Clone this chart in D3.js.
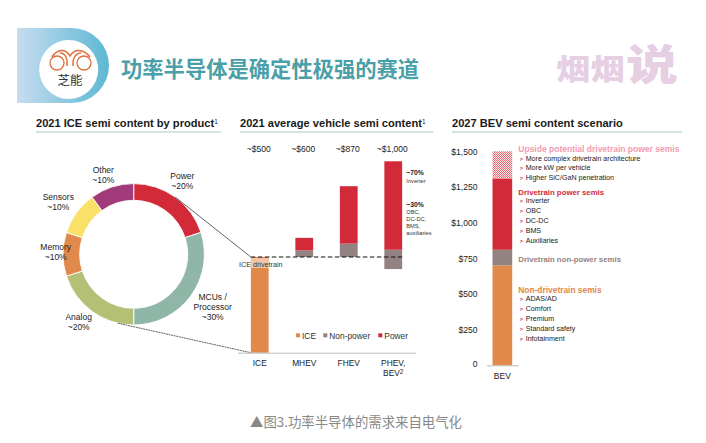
<!DOCTYPE html>
<html>
<head>
<meta charset="utf-8">
<script src="https://cdn.jsdelivr.net/npm/d3@7"></script>
<style>
  html, body { margin: 0; padding: 0; background: #fff; }
  svg { display: block; }
  text { font-family: "Liberation Sans", Arial, sans-serif; fill: #222; }
  .cjk { font-family: "Noto Sans CJK SC", sans-serif; }
</style>
</head>
<body>
<svg id="chart" width="706" height="443"></svg>
<script>
// donut
const products = ['Power', 'MCUs / Processor', 'Analog', 'Memory', 'Sensors', 'Other'];
const productShares = [20, 30, 20, 10, 10, 10];
const productColors = ['#d32a3a', '#90b6a8', '#b3c076', '#e0894b', '#fbe067', '#a13a7a'];
const productLabels = [['Power', '~20%'], ['MCUs /', 'Processor', '~30%'], ['Analog', '~20%'], ['Memory', '~10%'], ['Sensors', '~10%'], ['Other', '~10%']];

// waterfall, values in $ per vehicle
const vehicles = ['ICE', 'MHEV', 'FHEV', 'PHEV, BEV'];
const vehicleTotals = ['~$500', '~$600', '~$870', '~$1,000'];
const iceValues = [500, 0, 0, 0];
const nonPowerBase = [0, 500, 500, 437];
const nonPowerTop = [0, 535, 570, 538];
const powerTop = [0, 600, 870, 1000];
const iceDrivetrain = 500;

// BEV scenario
const bevLevels = [0, 700, 810, 1310, 1500];
const bevColors = ['#e0894b', '#928382', '#d32a3a', 'url(#hatch)'];
const bevTicks = [0, 250, 500, 750, 1000, 1250, 1500];
const upsideItems = ['More complex drivetrain architecture', 'More kW per vehicle', 'Higher SiC/GaN penetration'];
const powerItems = ['Inverter', 'OBC', 'DC-DC', 'BMS', 'Auxiliaries'];
const otherItems = ['ADAS/AD', 'Comfort', 'Premium', 'Standard safety', 'Infotainment'];

const svg = d3.select('#chart');
const defs = svg.append('defs');

const grad = defs.append('linearGradient').attr('id', 'logoGrad');
grad.append('stop').attr('offset', '0%').attr('stop-color', '#c6dcf0');
grad.append('stop').attr('offset', '100%').attr('stop-color', '#5cb8d2');

const hatch = defs.append('pattern').attr('id', 'hatch')
  .attr('width', 2).attr('height', 2).attr('patternUnits', 'userSpaceOnUse');
hatch.append('rect').attr('width', 2).attr('height', 2).attr('fill', '#fbe6e8');
hatch.append('rect').attr('width', 1).attr('height', 1).attr('fill', '#e56b78');
hatch.append('rect').attr('x', 1).attr('y', 1).attr('width', 1).attr('height', 1).attr('fill', '#e56b78');

// little helper, most of this picture is loose text
function label(g, x, y, str, opts = {}) {
  return g.append('text')
    .attr('x', x).attr('y', y)
    .attr('dominant-baseline', 'central')
    .attr('text-anchor', opts.anchor || 'start')
    .attr('font-size', opts.size || 8)
    .attr('font-weight', opts.weight || 'normal')
    .style('fill', opts.color || '#222')
    .text(str);
}

// header
const logo = svg.append('g');
logo.append('path')
  .attr('d', 'M17,28 H71.5 A37.5,37.5 0 0 1 71.5,103 H17 Z')
  .attr('fill', 'url(#logoGrad)');
logo.append('circle').attr('cx', 68.7).attr('cy', 69.5).attr('r', 29.5).attr('fill', '#fff');
logo.append('path')
  .attr('d', 'M52,57 C58,48 66,49 70,56 C74,49 83,48 90,57 M60,53 C66,53 68,60 67,66 M81,53 C75,53 72,60 73,66')
  .attr('fill', 'none').attr('stroke', '#e0703a').attr('stroke-width', 1.5);
logo.append('circle').attr('cx', 57).attr('cy', 63).attr('r', 7).attr('fill', 'none').attr('stroke', '#e0703a').attr('stroke-width', 1.3);
logo.append('circle').attr('cx', 84).attr('cy', 63).attr('r', 7).attr('fill', 'none').attr('stroke', '#e0703a').attr('stroke-width', 1.3);
label(logo, 70, 79, '芝能', { anchor: 'middle', size: 12.5, color: '#333' }).attr('class', 'cjk');

label(svg, 121, 67, '功率半导体是确定性极强的赛道', { size: 21.3, weight: 700, color: '#4a9fa8' }).attr('class', 'cjk');
label(svg, 556, 67, '烟烟', { size: 29, weight: 900, color: '#e6cfe2' }).attr('class', 'cjk')
  .attr('textLength', 69).attr('lengthAdjust', 'spacingAndGlyphs');
label(svg, 626, 61, '说', { size: 42, weight: 900, color: '#e6cfe2' }).attr('class', 'cjk')
  .attr('textLength', 52).attr('lengthAdjust', 'spacingAndGlyphs');

// section titles
const titles = [
  { text: '2021 ICE semi content by product', x0: 36, x1: 221, sup: true },
  { text: '2021 average vehicle semi content', x0: 240, x1: 433.5, sup: true },
  { text: '2027 BEV semi content scenario', x0: 452, x1: 682, sup: false }
];
titles.forEach(t => {
  const el = svg.append('text').attr('x', t.x0).attr('y', 127)
    .attr('font-size', 11.1).attr('font-weight', 'bold').style('fill', '#1a1a1a').text(t.text);
  if (t.sup) el.append('tspan').attr('dy', -3.5).attr('font-size', 6.5).attr('font-weight', 'normal').text('1');
  svg.append('line').attr('x1', t.x0).attr('x2', t.x1).attr('y1', 132).attr('y2', 132)
    .attr('stroke', '#c6dad4').attr('stroke-width', 1.6);
});

// donut
const donutX = 133.7, donutY = 254.3, outerR = 70.7, innerR = 54;
const pie = d3.pie().sort(null).value(d => d);
const arc = d3.arc().innerRadius(innerR).outerRadius(outerR);
const donut = svg.append('g').attr('transform', `translate(${donutX},${donutY})`);
donut.selectAll('path')
  .data(pie(productShares))
  .join('path')
  .attr('d', arc)
  .attr('fill', (d, i) => productColors[i])
  .attr('stroke', '#fff')
  .attr('stroke-width', 0.9);

const donutLabelAt = [[182.3, 176], [212.7, 297.3], [78.7, 317.3], [55.7, 247.3], [58.3, 197.3], [103.3, 169.7]];
productLabels.forEach((lines, i) => {
  lines.forEach((s, j) => {
    label(svg, donutLabelAt[i][0], donutLabelAt[i][1] + j * 10, s, { anchor: 'middle', size: 8.5 });
  });
});

// waterfall
const xMid = d3.scaleBand().domain(vehicles).range([237.5, 415.5]).paddingInner(0.6).paddingOuter(0.3);
const yMid = d3.scaleLinear().domain([0, 1000]).range([352.7, 161.3]);
const mid = svg.append('g');

mid.selectAll('rect.ice').data(vehicles).join('rect').attr('class', 'ice')
  .attr('x', d => xMid(d)).attr('width', xMid.bandwidth())
  .attr('y', (d, i) => yMid(iceValues[i]))
  .attr('height', (d, i) => yMid(0) - yMid(iceValues[i]))
  .attr('fill', '#e0894b');
mid.selectAll('rect.nonpower').data(vehicles).join('rect').attr('class', 'nonpower')
  .attr('x', d => xMid(d)).attr('width', xMid.bandwidth())
  .attr('y', (d, i) => yMid(nonPowerTop[i]))
  .attr('height', (d, i) => Math.max(0, yMid(nonPowerBase[i]) - yMid(nonPowerTop[i])))
  .attr('fill', '#928382');
mid.selectAll('rect.power').data(vehicles).join('rect').attr('class', 'power')
  .attr('x', d => xMid(d)).attr('width', xMid.bandwidth())
  .attr('y', (d, i) => yMid(powerTop[i]))
  .attr('height', (d, i) => Math.max(0, yMid(nonPowerTop[i]) - yMid(powerTop[i])))
  .attr('fill', '#d32a3a');

// connectors from the power and analog slices to the ICE bar
const polar = (deg) => [donutX + outerR * Math.sin(deg * Math.PI / 180), donutY - outerR * Math.cos(deg * Math.PI / 180)];
const upper = polar(36), lower = polar(193);
mid.append('line').attr('x1', upper[0]).attr('y1', upper[1]).attr('x2', xMid('ICE')).attr('y2', yMid(iceDrivetrain))
  .attr('stroke', '#222').attr('stroke-width', 0.7);
mid.append('line').attr('x1', lower[0]).attr('y1', lower[1]).attr('x2', xMid('ICE')).attr('y2', yMid(0))
  .attr('stroke', '#222').attr('stroke-width', 0.7).attr('stroke-dasharray', '2,0.6');

const axisMid = d3.axisBottom(xMid).tickSize(0).tickFormat(() => '');
const midAxisG = mid.append('g').attr('transform', `translate(0,${yMid(0)})`).call(axisMid);
midAxisG.select('.domain').attr('stroke', '#bbb').attr('stroke-width', 1);

vehicles.forEach((v, i) => {
  const cx = xMid(v) + xMid.bandwidth() / 2;
  label(mid, cx - 1, 148.7, vehicleTotals[i], { anchor: 'middle', size: 8.5 });
  if (v.includes(',')) {
    label(mid, cx, 363, 'PHEV,', { anchor: 'middle', size: 8.4 });
    const t = label(mid, cx, 372.7, 'BEV', { anchor: 'middle', size: 8.4 });
    t.append('tspan').attr('dy', -2).attr('font-size', 6.5).text('2');
  } else {
    label(mid, cx, 363, v, { anchor: 'middle', size: 8.4 });
  }
});

// ICE drivetrain level
mid.append('rect').attr('x', xMid('ICE')).attr('width', xMid.bandwidth())
  .attr('y', yMid(iceDrivetrain) + 1).attr('height', 10).attr('fill', '#fff').attr('opacity', 0.5);
mid.append('line').attr('x1', xMid('ICE')).attr('x2', xMid(vehicles[3]) + xMid.bandwidth())
  .attr('y1', yMid(iceDrivetrain)).attr('y2', yMid(iceDrivetrain))
  .attr('stroke', '#111').attr('stroke-width', 1.1).attr('stroke-dasharray', '4.5,2.5');
label(mid, 239, 264, 'ICE drivetrain', { size: 7.2, color: '#333' });

// side notes
label(mid, 406.3, 172.7, '~70%', { size: 6.8, weight: 'bold' });
label(mid, 406.3, 180.7, 'Inverter', { size: 5.7, color: '#333' });
label(mid, 406.3, 204.3, '~30%', { size: 6.8, weight: 'bold' });
['OBC,', 'DC-DC,', 'BMS,', 'auxiliaries'].forEach((s, i) => {
  label(mid, 406.3, 212 + i * 6.95, s, { size: 5.7, color: '#333' });
});

// legend
const legendItems = [['ICE', '#e0894b', 296], ['Non-power', '#928382', 323.3], ['Power', '#d32a3a', 378.3]];
legendItems.forEach(([name, color, x]) => {
  mid.append('rect').attr('x', x).attr('y', 333.3).attr('width', 4).attr('height', 4).attr('fill', color);
  label(mid, x + 6, 335.5, name, { size: 8.4, color: '#333' });
});

// BEV stacked bar
const xBev = d3.scaleBand().domain(['BEV']).range([486.7, 518]).paddingInner(0).paddingOuter(0.295);
const yBev = d3.scaleLinear().domain([0, 1500]).range([365.3, 151.3]);
const bev = svg.append('g');

bev.selectAll('rect').data(bevColors).join('rect')
  .attr('x', xBev('BEV')).attr('width', xBev.bandwidth())
  .attr('y', (d, i) => yBev(bevLevels[i + 1]))
  .attr('height', (d, i) => yBev(bevLevels[i]) - yBev(bevLevels[i + 1]))
  .attr('fill', d => d);

const bevAxisX = bev.append('g').attr('transform', `translate(0,${yBev(0)})`)
  .call(d3.axisBottom(xBev).tickSize(0));
bevAxisX.select('.domain').attr('stroke', '#bbb').attr('stroke-width', 1);
bevAxisX.selectAll('text').attr('font-size', 8.5).attr('dy', 0).attr('y', 10.4)
  .attr('dominant-baseline', 'central').attr('font-family', null).style('fill', '#222');

const bevAxisY = bev.append('g').attr('transform', 'translate(477.5,0)')
  .call(d3.axisLeft(yBev).tickValues(bevTicks).tickSize(0).tickPadding(0)
    .tickFormat(d => d === 0 ? '0' : '$' + d3.format(',')(d)));
bevAxisY.select('.domain').remove();
bevAxisY.selectAll('text').attr('font-size', 8.6).attr('dy', d => d === 0 ? -2 : 0)
  .attr('dominant-baseline', 'central').attr('font-family', null).style('fill', '#222');

function bullets(items, ys) {
  items.forEach((s, i) => {
    label(bev, 519.7, ys[i], '>', { size: 5.5, color: '#d32a3a', weight: 'bold' });
    label(bev, 525.7, ys[i], s, { size: 7.1, color: '#222' });
  });
}
label(bev, 518.3, 149.3, 'Upside potential drivetrain power semis', { size: 8.5, weight: 'bold', color: '#f39bb0' });
bullets(upsideItems, [159, 168.3, 177.7]);
label(bev, 518.3, 192.3, 'Drivetrain power semis', { size: 7.8, weight: 'bold', color: '#d32a3a' });
bullets(powerItems, [201.3, 211.3, 221, 231, 241]);
label(bev, 518.3, 259, 'Drivetrain non-power semis', { size: 7.8, weight: 'bold', color: '#928382' });
label(bev, 518.3, 289.7, 'Non-drivetrain semis', { size: 8.4, weight: 'bold', color: '#e0894b' });
bullets(otherItems, [299, 309.3, 319, 329.3, 339]);

// caption
label(svg, 250, 421, '▲图3.功率半导体的需求来自电气化', { size: 13.4, color: '#888' }).attr('class', 'cjk');
</script>
</body>
</html>
